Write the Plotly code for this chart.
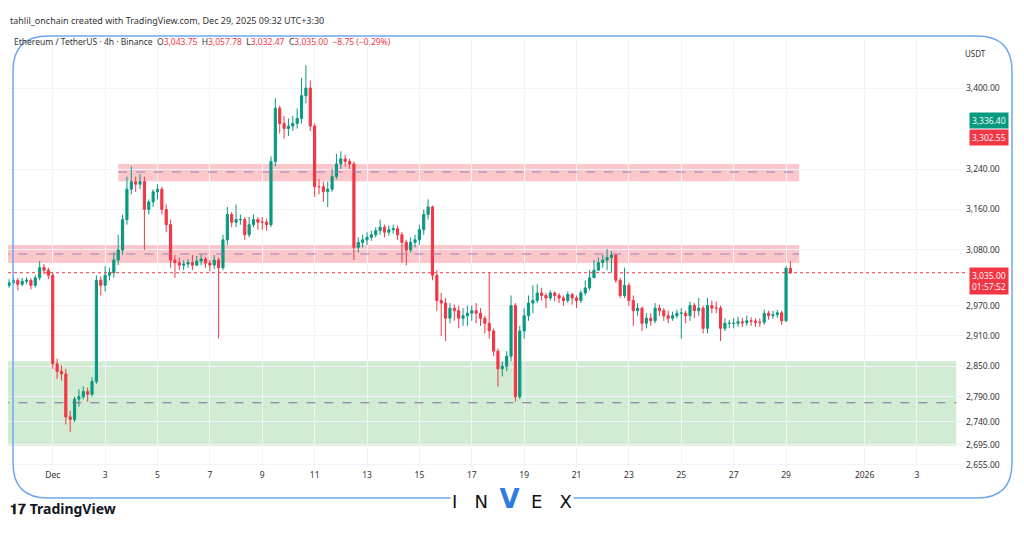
import plotly.graph_objects as go
import pandas as pd

start = "2025-11-29 08:00"
closes = [3015,3020,3012,3018,
 3020,3010,3025,3045,3040,3030,
 2855,2840,2835,2750,2745,2785,
 2790,2800,2795,2820,3020,3010,
 3030,3035,3060,3080,3140,3200,
 3215,3210,3215,3160,3175,3195,
 3200,3160,3130,3060,3055,3050,
 3052,3055,3050,3058,3062,3054,
 3050,3060,3045,3100,3150,3135,
 3140,3140,3110,3130,3140,3135,
 3135,3130,3255,3360,3330,3320,
 3325,3330,3340,3385,3400,3325,
 3205,3205,3195,3200,3225,3250,
 3260,3255,3250,3085,3095,3100,
 3105,3110,3118,3125,3115,3120,
 3122,3110,3095,3080,3095,3100,
 3120,3150,3165,3030,2980,2975,
 2945,2965,2960,2945,2950,2955,
 2960,2955,2945,2935,2920,2880,
 2845,2850,2870,2970,2790,2920,
 2950,2975,2980,2995,2990,2985,
 2995,2990,2985,2980,2992,2985,
 2980,2995,3005,3025,3040,3055,
 3060,3065,3070,3020,2990,3010,
 2980,2960,2965,2935,2945,2940,
 2965,2960,2950,2945,2950,2955,
 2955,2950,2970,2960,2965,2925,
 2970,2965,2965,2925,2935,2935,
 2935,2938,2936,2940,2939,2937,
 2937,2955,2950,2952,2956,2940,
 3043.75,3035.00]
highs = [3022,3028,3024,3025,
 3026,3024,3030,3058,3052,3045,
 3035,2865,2852,2845,2762,2790,
 2805,2810,2808,2828,3030,3028,
 3048,3045,3075,3110,3150,3225,
 3245,3225,3230,3225,3180,3200,
 3210,3205,3170,3140,3070,3065,
 3060,3062,3070,3068,3072,3066,
 3060,3070,3065,3110,3165,3155,
 3170,3150,3145,3145,3150,3145,
 3145,3142,3265,3380,3365,3345,
 3340,3345,3360,3420,3445,3415,
 3330,3220,3215,3215,3240,3270,
 3275,3268,3260,3255,3105,3110,
 3115,3118,3125,3140,3130,3128,
 3130,3128,3115,3100,3105,3110,
 3130,3160,3180,3168,3040,2995,
 2985,2975,2972,2970,2965,2970,
 2970,2975,2965,2950,3035,2925,
 2885,2860,2880,2990,2975,2930,
 2965,2990,3010,3012,3005,2995,
 3000,2998,2995,2990,2998,2995,
 2990,3000,3020,3040,3060,3065,
 3070,3082,3078,3072,3025,3045,
 3015,2990,2975,2968,2955,2955,
 2975,2972,2965,2960,2958,2962,
 2965,2960,2978,2975,2985,2970,
 2985,2980,2978,2970,2945,2942,
 2945,2948,2946,2950,2947,2945,
 2945,2962,2960,2960,2962,2960,
 3048,3057.78]
lows = [3005,3010,3000,3008,
 3012,3002,3006,3020,3032,3022,
 2845,2825,2822,2735,2720,2740,
 2770,2785,2780,2790,2815,2990,
 2998,3020,3025,3050,3070,3130,
 3190,3195,3200,3080,3150,3165,
 3180,3150,3115,3045,3025,3040,
 3040,3045,3040,3048,3050,3045,
 3038,3042,2905,3040,3090,3125,
 3125,3130,3100,3105,3125,3120,
 3120,3118,3125,3245,3310,3300,
 3305,3315,3320,3330,3370,3315,
 3185,3190,3175,3165,3195,3220,
 3240,3245,3240,3060,3075,3085,
 3090,3098,3105,3110,3105,3108,
 3112,3100,3055,3050,3075,3085,
 3090,3110,3140,3020,2960,2910,
 2900,2935,2940,2925,2930,2930,
 2940,2935,2930,2915,2905,2870,
 2810,2830,2840,2860,2780,2785,
 2905,2940,2955,2975,2980,2965,
 2980,2978,2975,2970,2975,2972,
 2965,2975,2990,3000,3030,3040,
 3045,3040,3035,3015,2985,2985,
 2970,2930,2950,2920,2925,2930,
 2935,2950,2940,2935,2940,2945,
 2905,2935,2940,2945,2950,2915,
 2915,2955,2955,2900,2920,2925,
 2925,2928,2928,2930,2930,2928,
 2928,2932,2942,2944,2946,2932,
 2938,3032.47]
first_open = 3010
opens = [first_open] + closes[:-1]
times = pd.date_range(start, periods=len(closes), freq="4h")

ytick_vals = [3400, 3240, 3160, 3080, 2970, 2910, 2850, 2790, 2740, 2695, 2655]
ytick_text = [f"{v:,.2f}" for v in ytick_vals]
xtick_vals = ["2025-12-01"] + [f"2025-12-{d:02d}" for d in range(3, 30, 2)] + ["2026-01-01", "2026-01-03"]
xtick_text = ["Dec"] + [str(d) for d in range(3, 30, 2)] + ["2026", "3"]

zone_upper = (3216, 3250, 3234)
zone_lower = (3054, 3090, 3072)
zone_green = (2693, 2860, 2778)
last_price = 3035.00

fig = go.Figure(go.Candlestick(
    x=times, open=opens, high=highs, low=lows, close=closes,
    increasing=dict(line=dict(color="#089981", width=1), fillcolor="#089981"),
    decreasing=dict(line=dict(color="#f23645", width=1), fillcolor="#f23645"),
    whiskerwidth=0, showlegend=False, hoverinfo="skip"))

# page pixel -> paper helpers (plot area on page: x 8..965, y 32..460)
def px(x): return (x - 8) / 957
def py(y): return (460 - y) / 428

zend = "2025-12-29 12:00"
L, R, T, B, rx, ry = px(13), px(1012), py(28), py(490), 35 / 957, 35 / 428
frame = (f"M {L},{T-ry} Q {L},{T} {L+rx},{T} L {R-rx},{T} Q {R},{T} {R},{T-ry} "
         f"L {R},{B+ry} Q {R},{B} {R-rx},{B} L {L+rx},{B} Q {L},{B} {L},{B+ry} Z")
shapes = [
    dict(type="rect", xref="x", yref="y", x0="2025-11-29 00:00", x1=zend, y0=zone_lower[0], y1=zone_lower[1],
         fillcolor="rgba(242,54,69,0.28)", line_width=0, layer="below"),
    dict(type="rect", xref="x", yref="y", x0="2025-12-03 12:00", x1=zend, y0=zone_upper[0], y1=zone_upper[1],
         fillcolor="rgba(242,54,69,0.28)", line_width=0, layer="below"),
    dict(type="rect", xref="x", yref="y", x0="2025-11-29 00:00", x1="2026-01-04 12:00", y0=zone_green[0], y1=zone_green[1],
         fillcolor="rgba(76,175,80,0.25)", line_width=0, layer="below"),
    dict(type="line", xref="x", yref="y", x0="2025-11-29 00:00", x1=zend, y0=zone_lower[2], y1=zone_lower[2],
         line=dict(color="#9c7fb5", width=1, dash="dash")),
    dict(type="line", xref="x", yref="y", x0="2025-12-03 12:00", x1=zend, y0=zone_upper[2], y1=zone_upper[2],
         line=dict(color="#9c7fb5", width=1, dash="dash")),
    dict(type="line", xref="x", yref="y", x0="2025-11-29 00:00", x1="2026-01-04 12:00", y0=zone_green[2], y1=zone_green[2],
         line=dict(color="#7b6b9c", width=1, dash="dash")),
    dict(type="line", xref="paper", yref="y", x0=0, x1=1, y0=last_price, y1=last_price,
         line=dict(color="#f23645", width=1, dash="dot")),
    dict(type="path", xref="paper", yref="paper", layer="above", path=frame,
         line=dict(color="#6fa8f0", width=1.5)),
]

ann = [
    dict(text="tahlil_onchain created with TradingView.com, Dec 29, 2025 09:32 UTC+3:30", x=px(8), y=py(12),
         xref="paper", yref="paper", showarrow=False, xanchor="left", yanchor="middle",
         font=dict(size=9, color="#333", family="Noto Sans")),
    dict(text="Ethereum / TetherUS · 4h · Binance  <span style='color:#333'>O</span><span style='color:#f23645'>3,043.75</span>  <span style='color:#333'>H</span><span style='color:#f23645'>3,057.78</span>  <span style='color:#333'>L</span><span style='color:#f23645'>3,032.47</span>  <span style='color:#333'>C</span><span style='color:#f23645'>3,035.00  −8.75 (−0.29%)</span>",
         x=px(12), y=py(34), xref="paper", yref="paper", showarrow=False, xanchor="left", yanchor="middle",
         font=dict(size=8.5, color="#333", family="Noto Sans")),
    dict(text="USDT", x=px(988), y=py(38), xref="paper", yref="paper", showarrow=False,
         font=dict(size=8, color="#333", family="Noto Sans")),
    dict(text="3,336.40", x=1.0, y=3336.4, xref="paper", yref="y", showarrow=False, xanchor="left",
         bgcolor="#089981", font=dict(size=8.5, color="white"), borderpad=2, xshift=4),
    dict(text="3,302.55", x=1.0, y=3302.55, xref="paper", yref="y", showarrow=False, xanchor="left",
         bgcolor="#f23645", font=dict(size=8.5, color="white"), borderpad=2, xshift=4),
    dict(text="3,035.00<br>01:57:52", x=1.0, y=last_price, xref="paper", yref="y", showarrow=False, xanchor="left",
         bgcolor="#f23645", font=dict(size=8.5, color="white"), borderpad=2, xshift=4, yshift=-8, align="center"),
    dict(text="<b>𝟏𝟕 TradingView</b>", x=px(8), y=py(512), xref="paper", yref="paper", showarrow=False,
         xanchor="left", font=dict(size=14, color="#131722", family="Noto Sans")),
    dict(text="I   N  <span style='color:#2f7de1;font-size:26px'><b>V</b></span>  E   X", x=px(512), y=py(508), xref="paper", yref="paper",
         showarrow=False, bgcolor="white", font=dict(size=18, color="#111", family="DejaVu Sans")),
]

fig.update_layout(
    width=1024, height=538, margin=dict(l=0, r=67, t=32, b=78, autoexpand=False),
    paper_bgcolor="white", plot_bgcolor="white",
    shapes=shapes, annotations=ann,
    xaxis=dict(range=["2025-11-29 07:00", "2026-01-04 20:00"], rangeslider=dict(visible=False),
               tickvals=xtick_vals, ticktext=xtick_text, showgrid=True, gridcolor="#f0f3fa", automargin=False,
               tickfont=dict(size=8.5, color="#333", family="Noto Sans"), ticklen=0, ticks="", showline=False),
    yaxis=dict(side="right", range=[2649, 3495], tickvals=ytick_vals, ticktext=ytick_text, automargin=False,
               showgrid=True, gridcolor="#f0f3fa", zeroline=False,
               tickfont=dict(size=8.5, color="#333", family="Noto Sans"), ticks="", showline=False),
)
fig.write_html("out.html")
